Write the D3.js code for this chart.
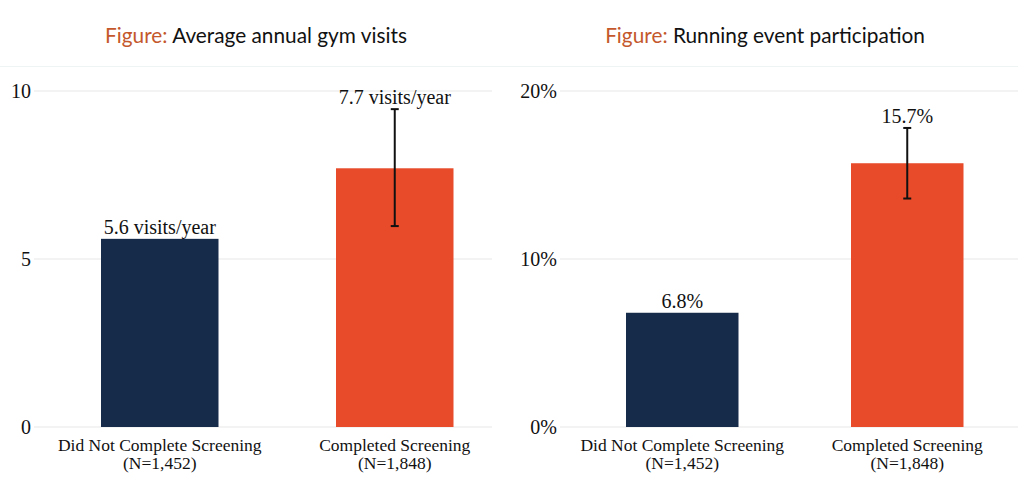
<!DOCTYPE html>
<html>
<head>
<meta charset="utf-8">
<script src="https://cdn.jsdelivr.net/npm/d3@7"></script>
<style>
  html, body { margin: 0; padding: 0; background: #fff; }
  svg { display: block; }
</style>
</head>
<body>
<svg id="chart" width="1018" height="501"></svg>
<script>
// ---- Data ----
const categories = ["Did Not Complete Screening", "Completed Screening"];
const sampleSizes = ["(N=1,452)", "(N=1,848)"];

const gymTitle = "Average annual gym visits";
const gymValues = [5.6, 7.7];
const gymErrLow = [null, 5.98];
const gymErrHigh = [null, 9.46];
const gymTicks = [0, 5, 10];
const gymTickLabels = ["0", "5", "10"];
const gymLabels = ["5.6 visits/year", "7.7 visits/year"];

const runTitle = "Running event participation";
const runValues = [6.8, 15.7];
const runErrLow = [null, 13.6];
const runErrHigh = [null, 17.8];
const runTicks = [0, 10, 20];
const runTickLabels = ["0%", "10%", "20%"];
const runLabels = ["6.8%", "15.7%"];

const colors = ["#162a4a", "#e84b2a"];

// ---- Drawing ----
const svg = d3.select("#chart");
const serif = "'Liberation Serif', 'Times New Roman', serif";

function panel(opts) {
  const g = svg.append("g");
  // title
  const t = g.append("text")
    .attr("x", opts.titleX).attr("y", 43)
    .attr("text-anchor", "middle")
    .style("font-family", "Lato, sans-serif")
    .style("font-size", "20.8px");
  t.append("tspan").attr("fill", "#c4582c").text("Figure: ");
  t.append("tspan").attr("fill", "#111").text(opts.title);

  // faint separator under title
  g.append("line")
    .attr("x1", opts.sepX[0]).attr("x2", opts.sepX[1])
    .attr("y1", 66.5).attr("y2", 66.5)
    .attr("stroke", "#eef4f4").attr("stroke-width", 1);

  const y = d3.scaleLinear().domain(opts.yDomain).range([427, 91]);
  const x = d3.scaleBand().domain(categories).range(opts.xRange)
    .paddingInner(0.5).paddingOuter(0.25);

  // gridlines
  g.selectAll(".grid").data(opts.ticks).join("line")
    .attr("x1", opts.gridX[0]).attr("x2", opts.gridX[1])
    .attr("y1", d => y(d)).attr("y2", d => y(d))
    .attr("stroke", "#efefef").attr("stroke-width", 1.5);

  // y tick labels
  g.selectAll(".tick").data(opts.ticks).join("text")
    .attr("x", opts.tickX).attr("y", d => y(d) + 7)
    .attr("text-anchor", "end")
    .style("font-family", serif).style("font-size", "20px")
    .attr("fill", "#111")
    .text((d, i) => opts.tickLabels[i]);

  // bars
  g.selectAll(".bar").data(opts.values).join("rect")
    .attr("x", (d, i) => x(categories[i]))
    .attr("width", x.bandwidth())
    .attr("y", d => y(d))
    .attr("height", d => y(0) - y(d))
    .attr("fill", (d, i) => colors[i]);

  // error bars
  opts.values.forEach((v, i) => {
    if (opts.errLow[i] == null) return;
    const cx = x(categories[i]) + x.bandwidth() / 2;
    const eg = g.append("g").attr("stroke", "#111").attr("stroke-width", 2);
    eg.append("line").attr("x1", cx).attr("x2", cx)
      .attr("y1", y(opts.errLow[i])).attr("y2", y(opts.errHigh[i]));
    [opts.errLow[i], opts.errHigh[i]].forEach(e => {
      eg.append("line").attr("x1", cx - 4).attr("x2", cx + 4)
        .attr("y1", y(e)).attr("y2", y(e));
    });
  });

  // value labels
  g.selectAll(".vlab").data(opts.values).join("text")
    .attr("x", (d, i) => x(categories[i]) + x.bandwidth() / 2)
    .attr("y", (d, i) => (opts.errHigh[i] != null ? y(opts.errHigh[i]) : y(d)) - 5)
    .attr("text-anchor", "middle")
    .style("font-family", serif).style("font-size", "20px")
    .attr("fill", "#111")
    .text((d, i) => opts.labels[i]);

  // category labels
  categories.forEach((c, i) => {
    const cx = x(c) + x.bandwidth() / 2;
    const ct = g.append("text")
      .attr("text-anchor", "middle")
      .style("font-family", serif).style("font-size", "17.5px")
      .attr("fill", "#111");
    ct.append("tspan").attr("x", cx).attr("y", 451).text(c);
    ct.append("tspan").attr("x", cx).attr("y", 468.5).text(sampleSizes[i]);
  });
}

panel({
  title: gymTitle, titleX: 256, sepX: [0, 509],
  yDomain: [0, 10], ticks: gymTicks, tickLabels: gymTickLabels,
  xRange: [42.25, 512.25], gridX: [34, 492], tickX: 31,
  values: gymValues, errLow: gymErrLow, errHigh: gymErrHigh, labels: gymLabels
});

panel({
  title: runTitle, titleX: 765, sepX: [509, 1018],
  yDomain: [0, 20], ticks: runTicks, tickLabels: runTickLabels,
  xRange: [569.75, 1019.75], gridX: [560, 1018], tickX: 557,
  values: runValues, errLow: runErrLow, errHigh: runErrHigh, labels: runLabels
});
</script>
</body>
</html>
